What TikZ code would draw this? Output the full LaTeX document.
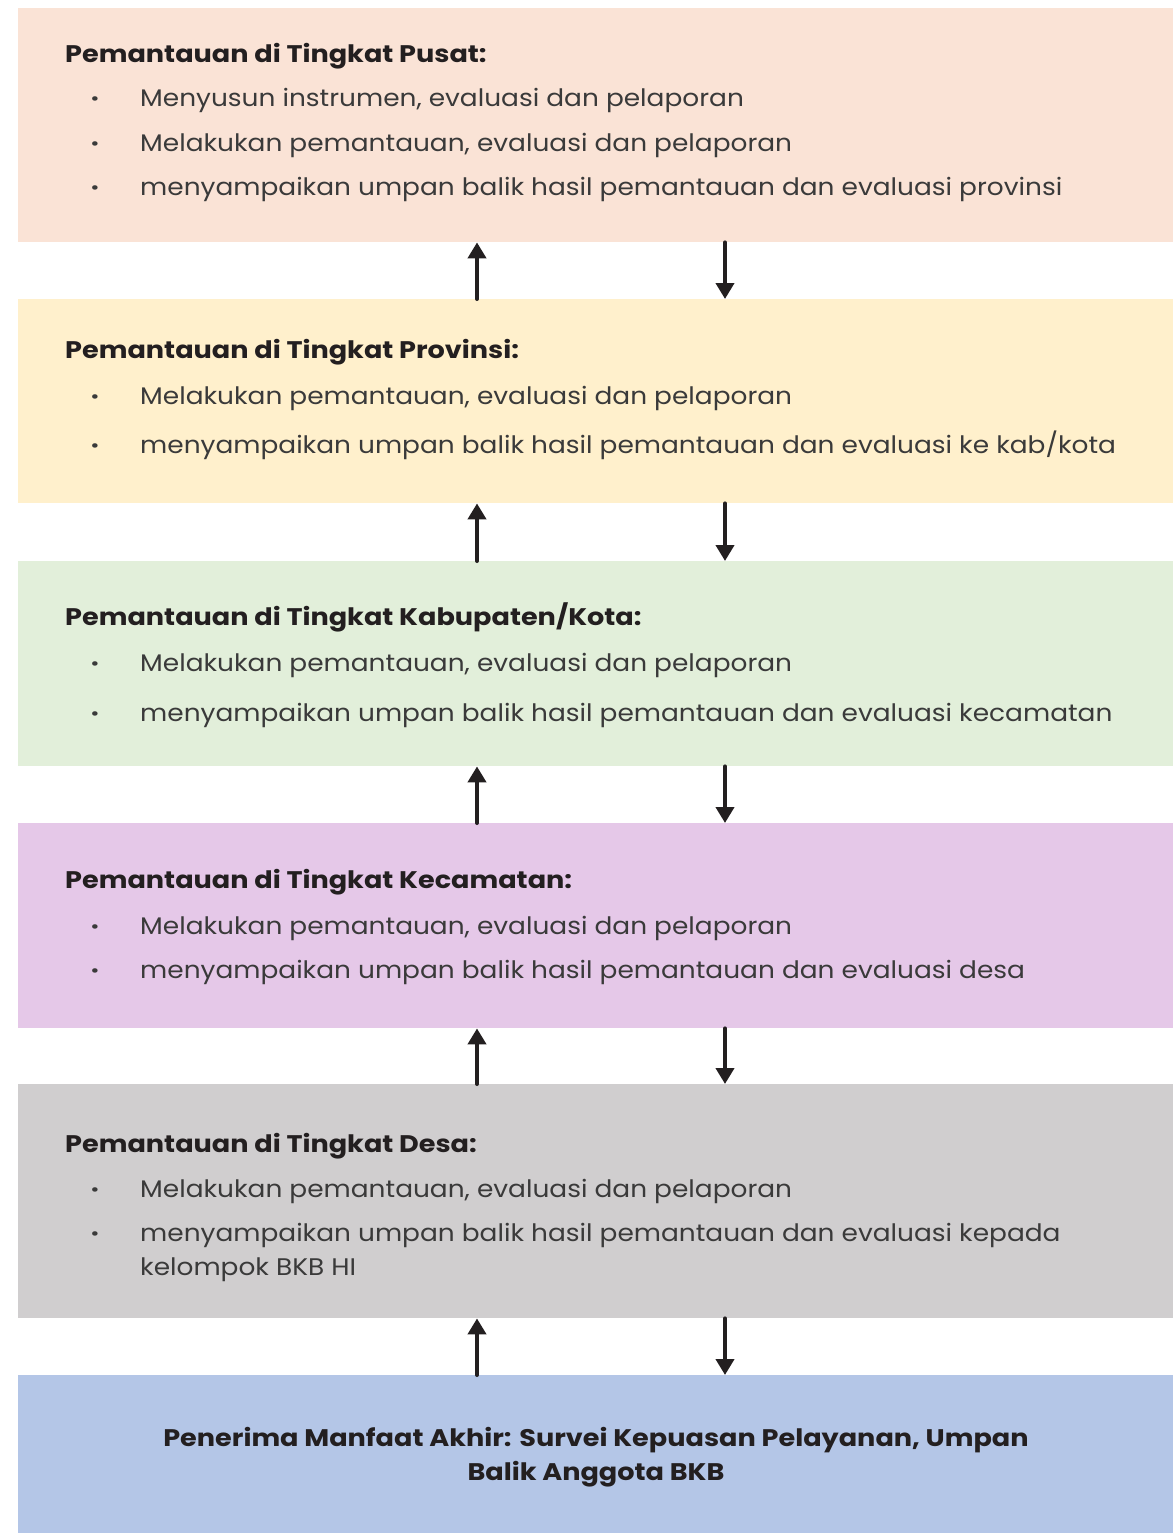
\documentclass[tikz,border=0pt]{standalone}
\usepackage{fontspec}
\setmainfont{Poppins}[FakeStretch=1.1,BoldFeatures={FakeStretch=1.13}]
\usetikzlibrary{arrows.meta}
\definecolor{cA}{HTML}{FAE3D6}
\definecolor{cB}{HTML}{FFF0CC}
\definecolor{cC}{HTML}{E2EFDA}
\definecolor{cD}{HTML}{E5C8E8}
\definecolor{cE}{HTML}{D0CECF}
\definecolor{cF}{HTML}{B4C6E7}
\definecolor{ttl}{HTML}{231F20}
\definecolor{bdy}{HTML}{3A3A3A}
\begin{document}
\begin{tikzpicture}[x=1pt,y=-1pt,
  panel/.style={fill=#1,draw=none,minimum width=1155pt,anchor=north west,inner sep=0pt},
  ttlbox/.style={anchor=base west,inner sep=0pt,text=ttl,font=\fontsize{24}{29}\selectfont\bfseries},
  itembox/.style={anchor=base west,inner sep=0pt,text=bdy,font=\fontsize{24}{29}\selectfont},
  dotbox/.style={anchor=base,inner sep=0pt,text=bdy,font=\fontsize{24}{29}\selectfont\bfseries},
  endbox/.style={anchor=base,inner sep=0pt,text=ttl,font=\fontsize{24}{29}\selectfont\bfseries},
  arr/.style={line width=4pt,line cap=round,draw=ttl,-{Triangle[width=18pt,length=16pt]}}]
\useasboundingbox (0,0) rectangle (1173,1533);
% panels
\node[panel=cA,minimum height=234pt] (b1) at (18,8) {};
\node[panel=cB,minimum height=204pt] (b2) at (18,299) {};
\node[panel=cC,minimum height=205pt] (b3) at (18,561) {};
\node[panel=cD,minimum height=205pt] (b4) at (18,823) {};
\node[panel=cE,minimum height=234pt] (b5) at (18,1084) {};
\node[panel=cF,minimum height=158pt] (b6) at (18,1375) {};
% column coordinates for arrows
\coordinate (ux) at (477,0);
\coordinate (dx) at (725,0);
% box 1
\node[ttlbox] (t1) at (65,63) {Pemantauan di Tingkat Pusat:};
\node[dotbox] (d11) at (95,107) {·};
\node[itembox] (i11) at (140,107) {Menyusun instrumen, evaluasi dan pelaporan};
\node[dotbox] (d12) at (95,152) {·};
\node[itembox] (i12) at (140,152) {Melakukan pemantauan, evaluasi dan pelaporan};
\node[dotbox] (d13) at (95,196) {·};
\node[itembox] (i13) at (140,196) {menyampaikan umpan balik hasil pemantauan dan evaluasi provinsi};
% box 2
\node[ttlbox] (t2) at (65,358) {Pemantauan di Tingkat Provinsi:};
\node[dotbox] (d21) at (95,404) {·};
\node[itembox] (i21) at (140,404) {Melakukan pemantauan, evaluasi dan pelaporan};
\node[dotbox] (d22) at (95,453) {·};
\node[itembox] (i22) at (140,453) {menyampaikan umpan balik hasil pemantauan dan evaluasi ke kab/kota};
% box 3
\node[ttlbox] (t3) at (65,625) {Pemantauan di Tingkat Kabupaten/Kota:};
\node[dotbox] (d31) at (95,671) {·};
\node[itembox] (i31) at (140,671) {Melakukan pemantauan, evaluasi dan pelaporan};
\node[dotbox] (d32) at (95,721) {·};
\node[itembox] (i32) at (140,721) {menyampaikan umpan balik hasil pemantauan dan evaluasi kecamatan};
% box 4
\node[ttlbox] (t4) at (65,888) {Pemantauan di Tingkat Kecamatan:};
\node[dotbox] (d41) at (95,934) {·};
\node[itembox] (i41) at (140,934) {Melakukan pemantauan, evaluasi dan pelaporan};
\node[dotbox] (d42) at (95,978) {·};
\node[itembox] (i42) at (140,978) {menyampaikan umpan balik hasil pemantauan dan evaluasi desa};
% box 5
\node[ttlbox] (t5) at (65,1152) {Pemantauan di Tingkat Desa:};
\node[dotbox] (d51) at (95,1197) {·};
\node[itembox] (i51) at (140,1197) {Melakukan pemantauan, evaluasi dan pelaporan};
\node[dotbox] (d52) at (95,1241) {·};
\node[itembox] (i52) at (140,1241) {menyampaikan umpan balik hasil pemantauan dan evaluasi kepada};
\node[itembox] (i53) at (140,1275) {kelompok BKB HI};
% box 6
\node[endbox] (e1) at (596,1446) {Penerima Manfaat Akhir: Survei Kepuasan Pelayanan, Umpan};
\node[endbox] (e2) at (596,1480) {Balik Anggota BKB};
% arrows
\draw[arr] (b2.north -| ux) -- (b1.south -| ux);
\draw[arr] (b1.south -| dx) -- (b2.north -| dx);
\draw[arr] (b3.north -| ux) -- (b2.south -| ux);
\draw[arr] (b2.south -| dx) -- (b3.north -| dx);
\draw[arr] (b4.north -| ux) -- (b3.south -| ux);
\draw[arr] (b3.south -| dx) -- (b4.north -| dx);
\draw[arr] (b5.north -| ux) -- (b4.south -| ux);
\draw[arr] (b4.south -| dx) -- (b5.north -| dx);
\draw[arr] (b6.north -| ux) -- (b5.south -| ux);
\draw[arr] (b5.south -| dx) -- (b6.north -| dx);
\end{tikzpicture}
\end{document}
